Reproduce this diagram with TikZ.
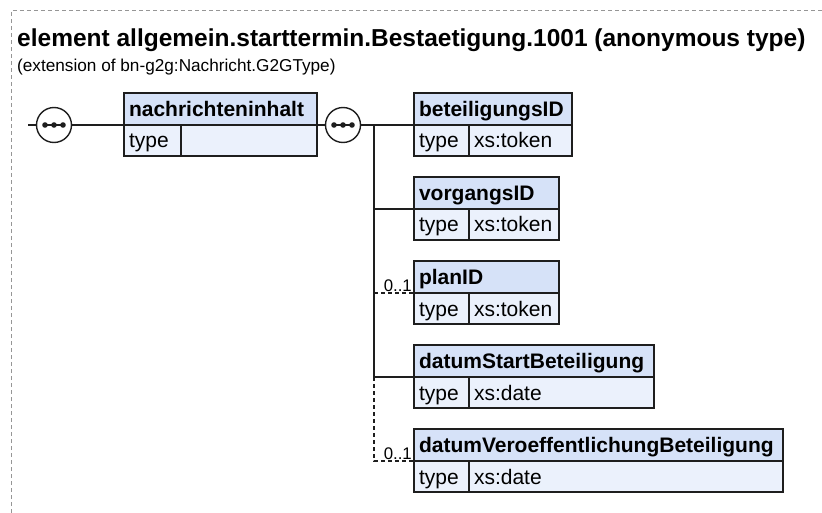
\documentclass[tikz,border=0pt]{standalone}
\usepackage{fontspec}
\setmainfont{Liberation Sans}
\usetikzlibrary{positioning}
\definecolor{headblue}{RGB}{214,226,248}
\definecolor{rowblue}{RGB}{235,241,252}
\definecolor{framegray}{RGB}{150,150,150}
\definecolor{linegray}{RGB}{30,30,30}

\begin{document}
\begin{tikzpicture}[x=1pt,y=-1pt,
  elhead/.style={draw=linegray, fill=headblue, line width=1.3pt, anchor=north west, outer sep=0,
    minimum height=32, inner xsep=5, inner ysep=0, text width=#1, align=left,
    text height=15, text depth=0, font=\fontsize{21}{24}\selectfont\bfseries},
  elrow/.style={draw=linegray, fill=rowblue, line width=1.3pt, anchor=north west, outer sep=0,
    minimum height=31, inner xsep=5, inner ysep=0, text width=#1, align=left,
    text height=15, text depth=0, font=\fontsize{21}{24}\selectfont},
  seq/.style={circle, draw=linegray, fill=white, line width=1.4pt, minimum size=35, inner sep=0,
    path picture={
      \draw[line width=1.2pt,linegray] ([xshift=-9]path picture bounding box.center) -- ([xshift=9]path picture bounding box.center);
      \foreach \d in {-9,0,9} \fill[linegray] ([xshift=\d]path picture bounding box.center) circle (2.8);}},
  conn/.style={draw=linegray, line width=1.3pt},
  opt/.style={conn, dash pattern=on 4pt off 3pt},
  mult/.style={inner xsep=2, inner ysep=1.5, font=\fontsize{16.8}{18}\selectfont}]

\useasboundingbox (0,0) rectangle (822,513);
\draw[framegray, line width=1pt, dash pattern=on 4pt off 3pt] (11,513) -- (11,11) -- (822,11);

\node[anchor=base west, inner sep=0, font=\fontsize{24.5}{28}\selectfont\bfseries] (title) at (17,47)
  {element allgemein.starttermin.Bestaetigung.1001 (anonymous type)};
\node[anchor=base west, inner sep=0, font=\fontsize{17.2}{20}\selectfont] (subtitle) at (17,72)
  {(extension of bn-g2g:Nachricht.G2GType)};

% nachrichteninhalt
\node[elhead=183] (nachricht) at (124,93) {nachrichteninhalt};
\node[elrow=47] (nachrichtt) at (nachricht.south west) {type};
\node[elrow=126] (nachrichtv) at (nachrichtt.north east) {};

\node[seq] (seqa) at (54,125) {};
\node[seq] (seqb) at (343,125) {};

% children
\node[elhead=148] (beteil) at (414,93) {beteiligungsID};
\node[elrow=45] (beteilt) at (beteil.south west) {type};
\node[elrow=93] (beteilv) at (beteilt.north east) {xs:token};

\node[elhead=135] (vorgang) at (414,177) {vorgangsID};
\node[elrow=45] (vorgangt) at (vorgang.south west) {type};
\node[elrow=80] (vorgangv) at (vorgangt.north east) {xs:token};

\node[elhead=135] (plan) at (414,261) {planID};
\node[elrow=45] (plant) at (plan.south west) {type};
\node[elrow=80] (planv) at (plant.north east) {xs:token};

\node[elhead=230] (datstart) at (414,345) {datumStartBeteiligung};
\node[elrow=45] (datstartt) at (datstart.south west) {type};
\node[elrow=175] (datstartv) at (datstartt.north east) {xs:date};

\node[elhead=359] (datveroe) at (414,429) {datumVeroeffentlichungBeteiligung};
\node[elrow=45] (datveroet) at (datveroe.south west) {type};
\node[elrow=304] (datveroev) at (datveroet.north east) {xs:date};

\node[mult, anchor=south east] (planmult) at (plan.south west) {0..1};
\node[mult, anchor=south east] (datveroemult) at (datveroe.south west) {0..1};

% connectors
\coordinate (lstart) at (28,125);
\coordinate (trunk) at (374,125);
\draw[conn] (lstart) -- (seqa) -- (nachricht.south west);
\draw[conn] (nachricht.south east) -- (seqb) -- (beteil.south west);
\draw[conn] (trunk) |- (datstart.south west);
\draw[conn] (trunk |- vorgang.south west) -- (vorgang.south west);
\draw[opt] (trunk |- plan.south west) -- (plan.south west);
\draw[opt] (trunk |- datstart.south west) |- (datveroe.south west);

\end{tikzpicture}
\end{document}
